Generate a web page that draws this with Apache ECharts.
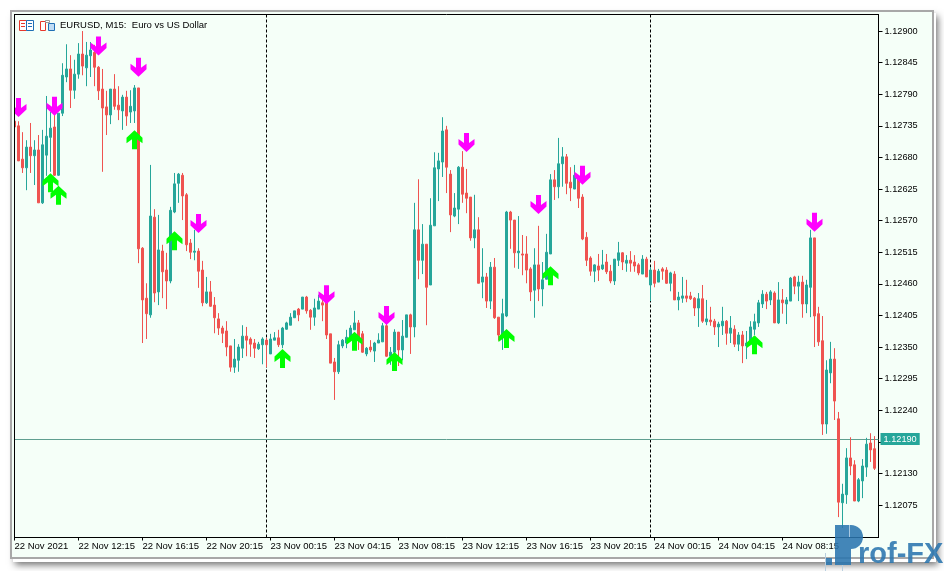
<!DOCTYPE html>
<html><head><meta charset="utf-8">
<style>html,body{margin:0;padding:0;background:#fff}#c{width:944px;height:571px}</style>
<script src="https://cdn.jsdelivr.net/npm/echarts@6/dist/echarts.min.js"></script>
</head><body><div id="c"></div>
<script>
// All prices are points above 1.12000 (743 = 1.12743)
const opens=[743,735,677,662,698,683,693,601,684,715,733,649,757,820,834,797,825,860,836,857,863,837,799,768,754,799,771,761,785,759,761,801,522,435,406,576,446,517,484,465,585,635,649,615,531,515,517,484,427,446,423,399,383,378,352,315,327,348,369,364,357,347,354,362,338,362,366,354,381,388,401,416,416,437,414,402,416,427,427,373,324,307,352,357,367,380,392,373,338,350,343,357,359,387,334,341,376,345,367,406,385,554,501,529,458,561,660,672,728,651,578,590,663,618,611,540,554,463,472,430,489,402,371,404,585,571,514,512,512,486,449,493,451,468,512,641,629,669,681,637,625,641,611,541,505,482,491,486,498,482,465,501,514,496,501,498,493,477,503,458,484,463,486,484,461,477,432,435,439,439,435,418,434,394,397,395,385,387,395,374,381,355,371,352,355,381,392,425,442,432,444,392,432,425,430,472,456,463,425,454,540,408,361,216,305,329,225,79,93,157,145,82,117,141,183,173];
const closes=[733,674,662,698,683,693,601,702,717,731,649,757,823,834,797,825,860,839,858,867,837,796,766,754,799,769,763,785,752,769,801,521,432,408,578,444,519,481,465,588,634,651,613,528,515,517,482,427,446,421,401,383,374,350,315,329,350,369,362,355,348,355,364,354,364,366,354,383,392,402,413,406,437,413,402,418,430,423,371,322,307,354,362,367,383,392,361,341,348,345,357,362,387,334,341,376,345,369,406,385,554,501,529,454,562,662,674,726,663,580,592,663,616,609,540,554,461,472,430,489,401,371,408,585,571,514,517,510,484,446,493,451,467,515,641,629,669,681,635,627,649,609,538,501,482,493,484,493,481,465,503,514,498,501,496,491,479,503,472,484,461,482,482,461,479,432,437,439,435,434,418,434,395,399,394,385,390,395,374,383,355,371,352,357,385,394,427,442,430,446,392,432,427,432,470,456,463,425,458,540,404,359,216,310,329,256,80,94,157,143,82,119,143,181,171,139];
const lows=[731,674,653,623,653,632,601,599,648,655,648,648,752,811,766,782,817,823,804,820,804,780,655,719,738,763,745,728,735,740,740,496,357,364,401,428,423,435,416,461,583,601,571,517,503,501,453,421,425,420,374,371,357,334,307,305,307,331,334,333,331,345,320,315,338,362,350,348,380,388,401,395,416,408,380,387,416,395,364,322,258,303,348,348,366,380,345,340,334,341,324,357,359,333,319,310,317,327,367,338,367,468,477,388,458,561,604,646,618,550,576,564,601,583,535,522,461,435,418,416,399,361,345,402,521,488,486,475,461,430,401,430,421,468,512,606,609,629,616,604,625,592,536,491,474,463,465,484,477,461,458,491,484,481,481,481,475,477,472,430,454,463,467,460,447,432,414,427,428,432,404,385,392,388,387,371,350,371,354,357,350,343,322,329,354,371,385,418,416,423,392,390,408,390,430,442,430,401,409,402,350,352,197,199,287,223,54,35,77,127,82,80,87,124,150,136];
const highs=[749,743,724,710,740,710,719,728,787,759,754,757,844,877,858,850,879,900,881,881,876,839,834,796,799,825,804,789,796,797,806,801,524,461,667,590,580,528,514,594,653,653,653,618,538,554,522,500,472,465,437,409,387,395,352,364,355,388,385,367,364,359,367,366,373,376,380,385,394,409,413,418,437,439,416,434,441,441,432,373,331,361,364,380,388,413,397,378,350,362,359,374,392,394,350,381,376,397,406,408,601,642,564,529,609,689,688,750,735,658,618,665,691,660,611,615,576,522,479,498,505,402,434,587,587,571,578,545,543,489,522,561,498,547,651,658,714,698,686,663,667,649,616,550,508,494,512,519,512,493,503,533,515,510,517,510,496,510,507,489,500,486,489,489,481,482,446,472,467,446,437,444,458,432,420,399,394,420,397,404,388,376,378,378,395,408,432,449,446,449,447,463,451,437,472,474,474,474,467,554,540,420,404,327,359,348,237,112,174,193,153,122,155,192,200,195];
const xTickLabels=['22 Nov 2021','22 Nov 12:15','22 Nov 16:15','22 Nov 20:15','23 Nov 00:15','23 Nov 04:15','23 Nov 08:15','23 Nov 12:15','23 Nov 16:15','23 Nov 20:15','24 Nov 00:15','24 Nov 04:15','24 Nov 08:15','24 Nov 12:15'];
const yTicks=[75,130,185,240,295,350,405,460,515,570,625,680,735,790,845,900];
const sellIdx=[1,10,21,31,46,78,93,113,131,142,200];
const sellPrice=[767,769,874,837,565,441,405,706,598,649,567];
const buyIdx=[9,11,30,40,67,85,95,123,134,185];
const buyPrice=[636,614,711,535,330,360,325,365,474,354];
const separators=[63,159];
const lastPrice=190;
const title='EURUSD, M15:  Euro vs US Dollar';

const FONT='"Liberation Sans"';
const fmt=v=>(1.12+v/1e5).toFixed(5);
const categories=Array.from({length:217},(_,i)=>String(i));
const MINT='#F5FFF8';
const chart=echarts.init(document.getElementById('c'),null,{renderer:'canvas'});
const R=(x,y,w,h,fill,z,extra)=>Object.assign({type:'rect',silent:true,z:z,shape:{x,y,width:w,height:h},style:{fill}},extra||{});
const S=(x,y,w,h,stroke,z)=>({type:'rect',silent:true,z:z,shape:{x,y,width:w,height:h},style:{fill:'#fff',stroke,lineWidth:1}});
const L=(x1,y1,x2,y2,stroke,z)=>({type:'line',silent:true,z:z,shape:{x1,y1,x2,y2},style:{stroke,lineWidth:1}});
chart.setOption({
 animation:false,backgroundColor:'#fff',
 grid:{left:14.5,top:14.5,width:864,height:523,show:true,borderColor:'#000',borderWidth:1,backgroundColor:'transparent'},
 xAxis:{type:'category',data:categories,boundaryGap:false,
  axisLine:{show:true,lineStyle:{color:'#000'}},
  axisTick:{show:true,interval:15,length:3,lineStyle:{color:'#000'}},
  axisLabel:{interval:15,margin:4,align:'left',fontFamily:FONT,fontSize:9.5,color:'#000',showMaxLabel:false,
   formatter:(v,i)=>xTickLabels[Math.round(i/16)]||''},
  splitLine:{show:false}},
 yAxis:{type:'value',position:'right',min:18.5,max:928.8,scale:true,
  axisLine:{show:true,lineStyle:{color:'#000'}},
  axisTick:{show:true,length:4,customValues:yTicks,lineStyle:{color:'#000'}},
  axisLabel:{customValues:yTicks,formatter:fmt,margin:6,fontFamily:FONT,fontSize:9.2,color:'#000'},
  splitLine:{show:false}},
 series:[
  {type:'candlestick',barWidth:2,z:3,clip:true,
   data:opens.map((o,i)=>[o,closes[i],lows[i],highs[i]]),
   itemStyle:{color:'#26A69A',color0:'#EF5350',borderColor:'#26A69A',borderColor0:'#EF5350',borderWidth:1},
   markLine:{silent:true,symbol:'none',animation:false,z:2,
    data:[
     ...separators.map(s=>({xAxis:String(s),lineStyle:{color:'#000',type:[3,2],width:1},label:{show:false}})),
     {yAxis:lastPrice,lineStyle:{color:'#5F9F90',type:'solid',width:1},
      label:{show:true,position:'end',distance:2,formatter:fmt(lastPrice),color:'#fff',backgroundColor:'#26A69A',padding:[2,3,1,3],fontFamily:FONT,fontSize:9.2}}
    ]}},
  {type:'scatter',z:5,clip:false,symbol:'path://M5.5 0H10.5V10L16 6V11.5L8 19L0 11.5V6L5.5 10Z',symbolSize:[16,19],
   itemStyle:{color:'#FF00FF',opacity:1},data:sellIdx.map((x,i)=>[x,sellPrice[i]])},
  {type:'scatter',z:5,clip:false,symbol:'path://M8 0L16 7.5V13L10.5 9V19H5.5V9L0 13V7.5Z',symbolSize:[16,19],
   itemStyle:{color:'#00FF00',opacity:1},data:buyIdx.map((x,i)=>[x,buyPrice[i]])}
 ],
 graphic:{elements:[
  R(13,13,923,549,'#D8D8D8',-12,{style:{fill:'#fff',shadowBlur:7,shadowColor:'rgba(0,0,0,.55)',shadowOffsetX:2,shadowOffsetY:3}}),
  R(10,10,924,549,'#A8A8A8',-11),
  R(12,12,920,545,MINT,-10),
  // left cover above the arrow that the plot edge clips
  R(12,14,2,524,MINT,100), R(10,14,2,524,'#A8A8A8',100), L(14.5,14,14.5,538,'#000',101),
  // header icons
  S(19.5,20.5,7,10,'#E8382C',101),S(26.5,20.5,7,10,'#1F6FB5',101),
  L(21,23.5,25,23.5,'#E8382C',102),L(21,26.5,25,26.5,'#E8382C',102),L(28,23.5,32,23.5,'#1F6FB5',102),L(28,26.5,32,26.5,'#1F6FB5',102),
  S(40.5,21.5,5,9,'#E8382C',101),S(48.5,23.5,6,7,'#1F6FB5',101),S(45.5,20.5,4,2,'#999',102),
  R(49,24,5,6,'#BFDDF5',102),
  {type:'text',silent:true,z:102,style:{text:title,x:60,y:25.5,verticalAlign:'middle',fill:'#000',font:'9.5px '+FONT}},
  // logo
  R(835,525,28,24,'#2A75AE',200,{shape:{x:835,y:525,width:28,height:24,r:[0,12,12,0]},style:{fill:'#2A75AE',opacity:.88}}),
  R(835,549,16,16,'#2A75AE',200,{style:{fill:'#2A75AE',opacity:.88}}),
  R(826,558,6,7,'#2A75AE',200,{style:{fill:'#2A75AE',opacity:.88}}),
  R(849,525,1,12,'#A9C9E2',201),
  R(825,553,1,18,'#B9CFDF',199),R(842,565,1,6,'#B9CFDF',199),
  {type:'text',silent:true,z:200,style:{text:'rof-FX',x:858,y:555,verticalAlign:'middle',fill:'#2A75AE',opacity:.88,font:'bold 29px "Liberation Sans"'}}
 ]}
});
</script></body></html>
